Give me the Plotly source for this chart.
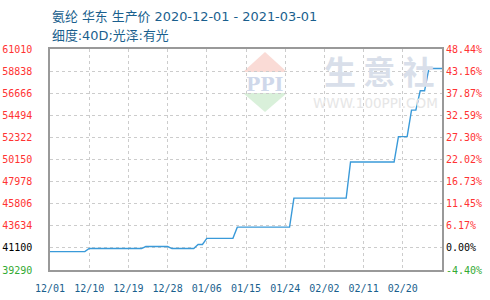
import pandas as pd
import plotly.graph_objects as go

# ---- data ----
dates = pd.date_range("2020-12-01", "2021-03-01", freq="D")
prices = [
    41100, 41100, 41100, 41100, 41100, 41100, 41100, 41100, 41100,
    41400, 41400, 41400, 41400, 41400, 41400, 41400, 41400, 41400, 41400, 41400, 41400, 41400,
    41600, 41600, 41600, 41600, 41600, 41600,
    41400, 41400, 41400, 41400, 41400, 41400,
    41800, 41800,
    42400, 42400, 42400, 42400, 42400, 42400, 42400,
    43500, 43500, 43500, 43500, 43500, 43500, 43500, 43500, 43500, 43500, 43500, 43500, 43500,
    46350, 46350, 46350, 46350, 46350, 46350, 46350, 46350, 46350, 46350, 46350, 46350, 46350,
    49900, 49900, 49900, 49900, 49900, 49900, 49900, 49900, 49900, 49900, 49900,
    52400, 52400, 52400,
    55000, 55000,
    56900, 56900,
    59100, 59100, 59100, 59100,
]
y_tickvals = [39290, 41462, 43634, 45806, 47978, 50150, 52322, 54494, 56666, 58838, 61010]
y_ticklabels = ["39290", "41100", "43634", "45806", "47978", "50150", "52322",
                "54494", "56666", "58838", "61010"]
pct_ticklabels = ["-4.40%", "0.00%", "6.17%", "11.45%", "16.73%", "22.02%", "27.30%",
                  "32.59%", "37.87%", "43.16%", "48.44%"]
x_tickdates = ["2020-12-01", "2020-12-10", "2020-12-19", "2020-12-28", "2021-01-06",
               "2021-01-15", "2021-01-24", "2021-02-02", "2021-02-11", "2021-02-20"]
x_ticklabels = ["12/01", "12/10", "12/19", "12/28", "01/06", "01/15", "01/24",
                "02/02", "02/11", "02/20"]
title1 = "氨纶 华东 生产价 2020-12-01 - 2021-03-01"
title2 = "细度:40D;光泽:有光"

RED, GREEN, BLACK = "#ff3333", "#33aa33", "#000000"


def colorize(labels):
    out = []
    for i, t in enumerate(labels):
        c = GREEN if i == 0 else (BLACK if i == 1 else RED)
        out.append(f'<span style="color:{c}">{t}</span>')
    return out


W, H = 490, 300
L, R, T, B = 50, 442, 49, 270


def px(x):
    return (x - L) / (R - L)


def py(y):
    return (B - y) / (B - T)


fig = go.Figure()
fig.add_trace(go.Scatter(x=dates, y=prices, mode="lines",
                         line=dict(color="#3a9ad9", width=1.4),
                         hoverinfo="skip", showlegend=False))
fig.add_trace(go.Scatter(x=dates, y=prices, mode="lines", yaxis="y2",
                         line=dict(color="rgba(0,0,0,0)", width=0),
                         hoverinfo="skip", showlegend=False))

mono = "DejaVu Sans Mono"
grid_dash = "3px,3px"
fig.update_layout(
    width=W, height=H,
    margin=dict(l=L, r=W - R, t=T, b=H - B, pad=0, autoexpand=False),
    paper_bgcolor="white", plot_bgcolor="white",
    xaxis=dict(
        type="date", range=["2020-12-01", "2021-03-01"],
        tickvals=x_tickdates, ticktext=x_ticklabels,
        tickfont=dict(family=mono, size=10, color="#1a5f8e"),
        showgrid=True, gridcolor="#cccccc", griddash=grid_dash, gridwidth=1,
        showline=True, linecolor="#999999", linewidth=1.5, mirror=True,
        ticks="", ticklabelstandoff=8, zeroline=False, automargin=False,
    ),
    yaxis=dict(
        range=[39290, 61010], tickvals=y_tickvals, ticktext=colorize(y_ticklabels),
        tickfont=dict(family=mono, size=10, color=RED),
        showgrid=True, gridcolor="#cccccc", griddash=grid_dash, gridwidth=1,
        showline=True, linecolor="#999999", linewidth=1.5, mirror=True,
        ticks="", ticklabelstandoff=14, zeroline=False, automargin=False,
    ),
    yaxis2=dict(
        range=[39290, 61010], tickvals=y_tickvals, ticktext=colorize(pct_ticklabels),
        overlaying="y", side="right",
        tickfont=dict(family=mono, size=10, color=RED),
        showgrid=False, showline=False, ticks="", ticklabelstandoff=3, zeroline=False,
        automargin=False,
    ),
)

# watermark
fig.add_shape(type="path", xref="paper", yref="paper", layer="below",
              path=f"M {px(265)} {py(52)} L {px(287)} {py(72)} L {px(243)} {py(72)} Z",
              fillcolor="#fadbd6", line=dict(width=0))
fig.add_shape(type="path", xref="paper", yref="paper", layer="below",
              path=f"M {px(243)} {py(93)} L {px(287)} {py(93)} L {px(265)} {py(112)} Z",
              fillcolor="#d9f0da", line=dict(width=0))
fig.add_annotation(x=px(265), y=py(84), xref="paper", yref="paper", text="<b>PPI</b>",
                   showarrow=False, font=dict(family="DejaVu Serif", size=19, color="#cfd8ea"),
                   xanchor="center", yanchor="middle")
fig.add_annotation(x=px(379), y=py(70), xref="paper", yref="paper", text="<b>生 意 社</b>",
                   showarrow=False, font=dict(family="Noto Sans CJK SC", size=32, color="#d9dfea"),
                   xanchor="center", yanchor="middle")
fig.add_annotation(x=px(375), y=py(103), xref="paper", yref="paper", text="WWW.100PPI.COM",
                   showarrow=False, font=dict(family="DejaVu Sans", size=13.5, color="#e6e6e6"),
                   xanchor="center", yanchor="middle")

# titles
fig.add_annotation(x=0, y=py(16), xref="paper", yref="paper", text=title1, showarrow=False,
                   xanchor="left", yanchor="middle",
                   font=dict(family="DejaVu Sans, Noto Sans CJK SC", size=12.9, color="#1a5f8e"))
fig.add_annotation(x=0, y=py(35), xref="paper", yref="paper", text=title2, showarrow=False,
                   xanchor="left", yanchor="middle",
                   font=dict(family="DejaVu Sans, Noto Sans CJK SC", size=12.9, color="#1a5f8e"))

fig.write_html("out.html")
